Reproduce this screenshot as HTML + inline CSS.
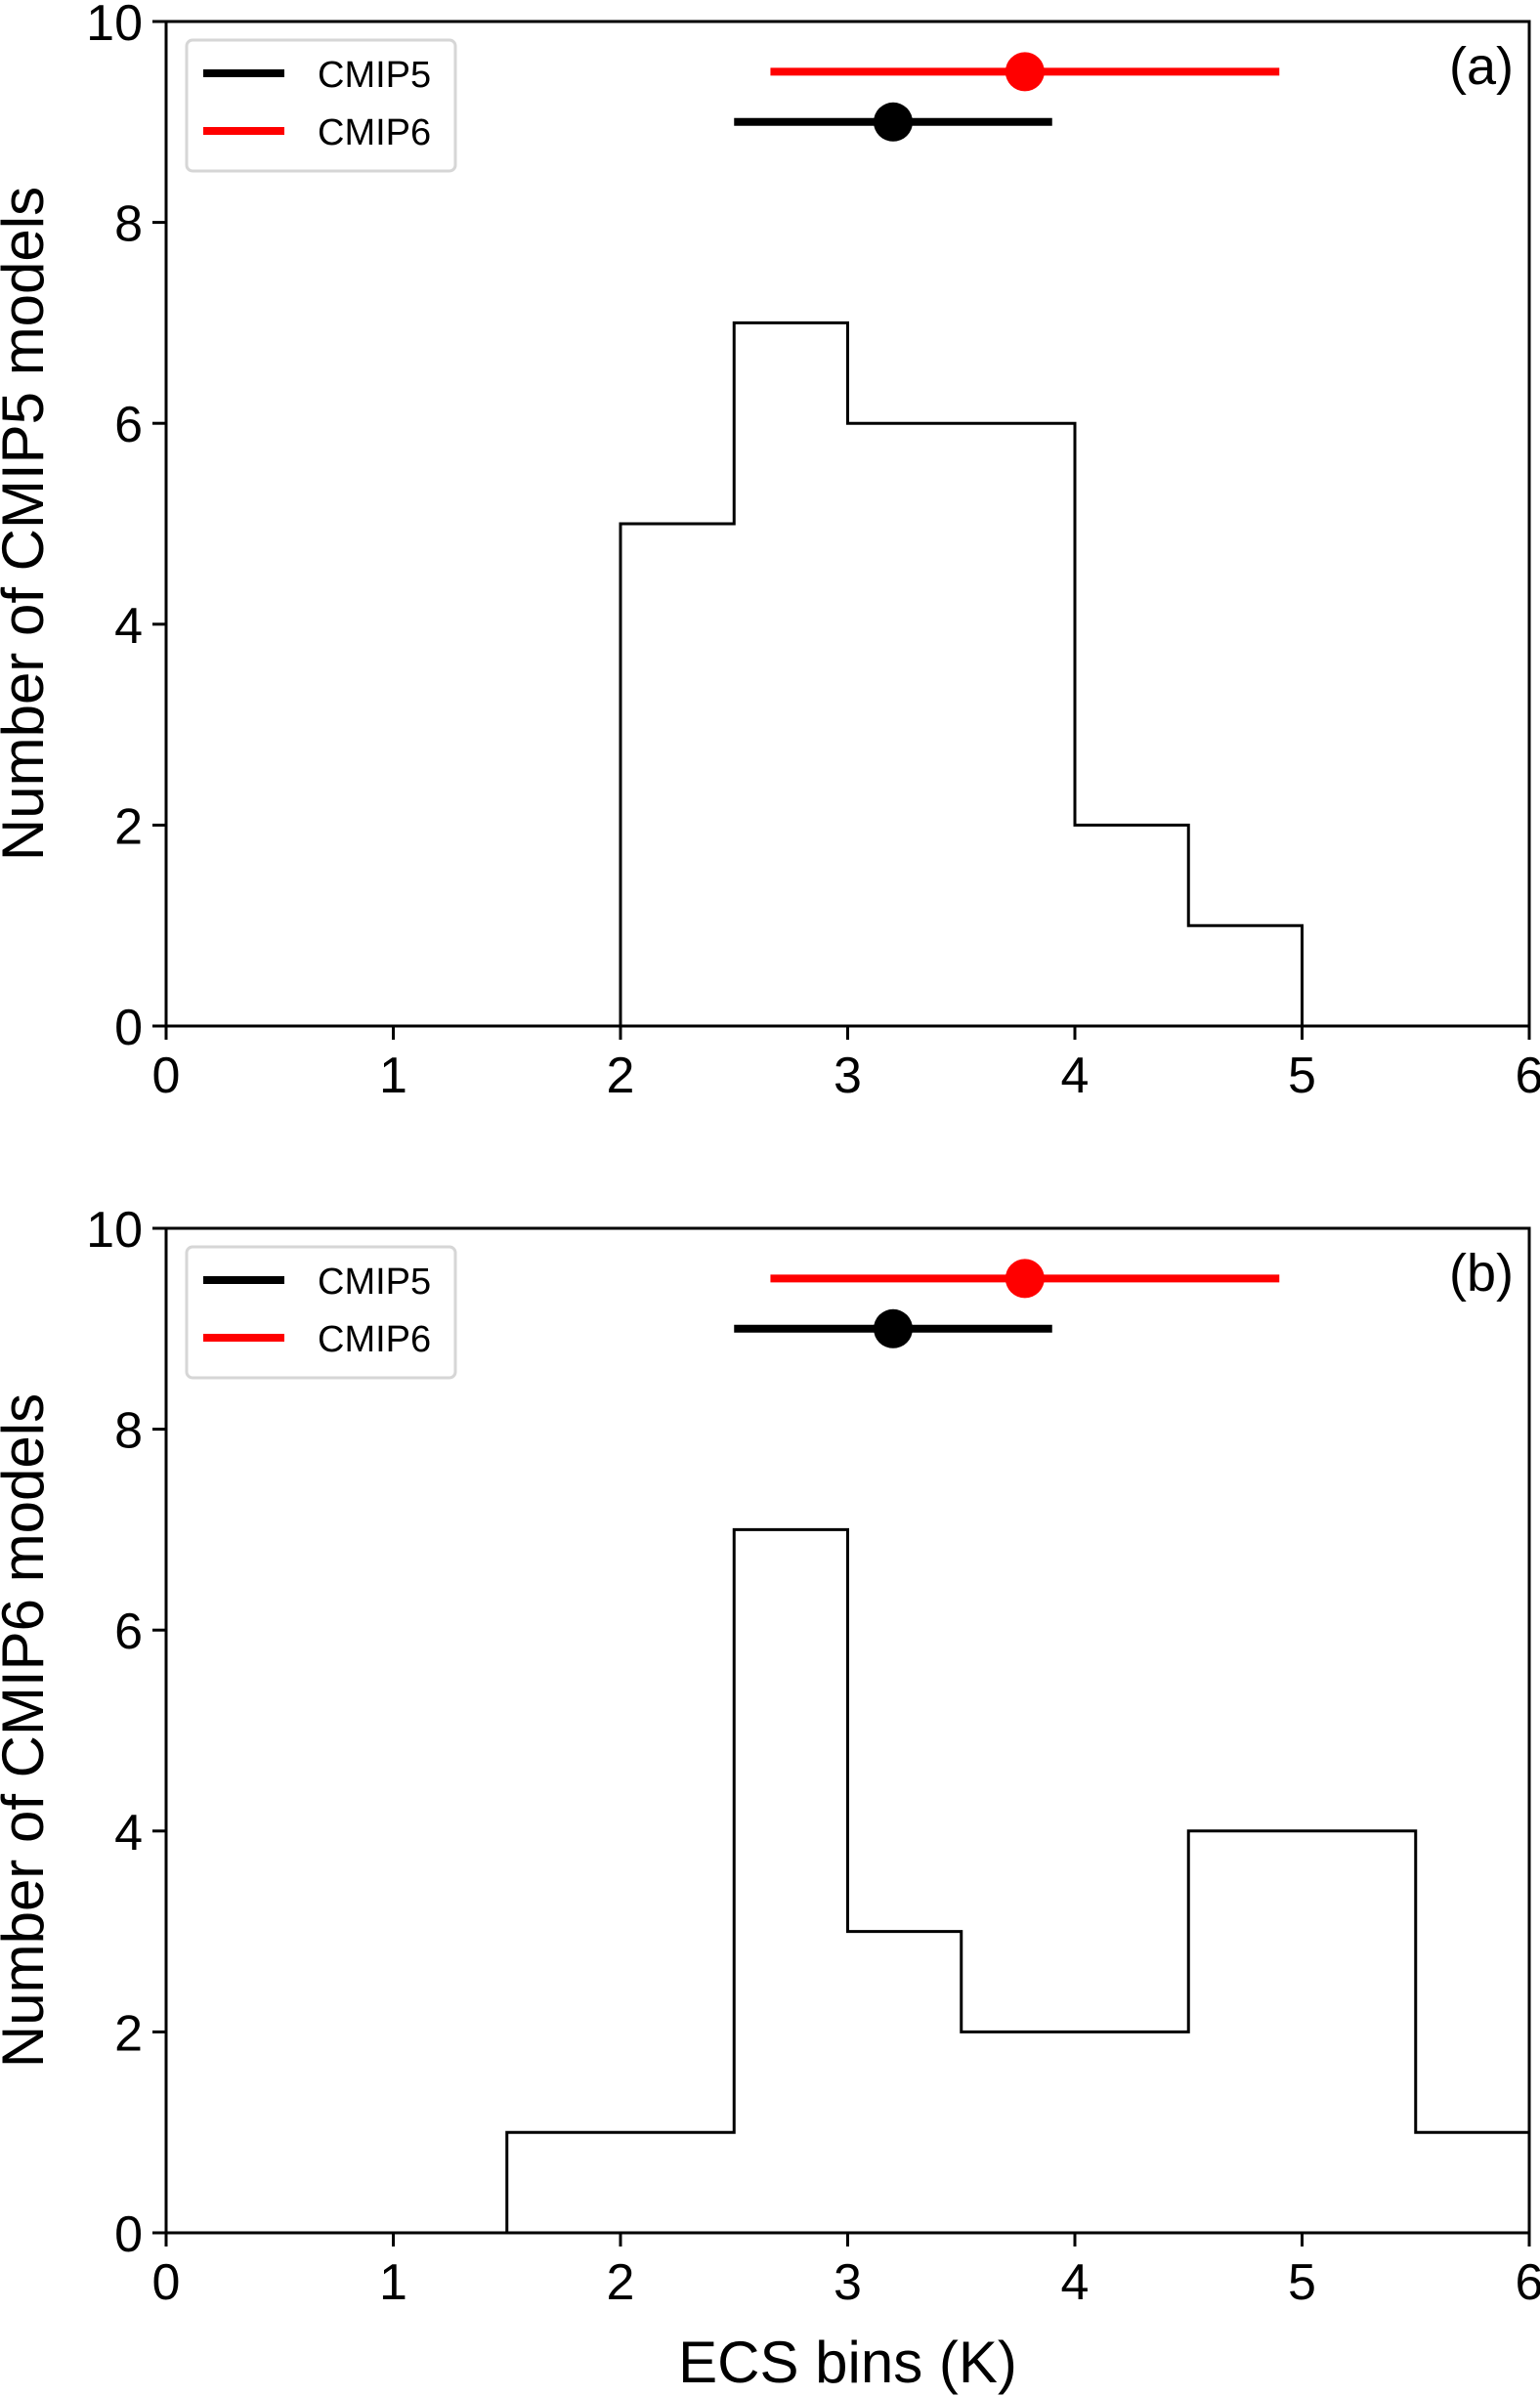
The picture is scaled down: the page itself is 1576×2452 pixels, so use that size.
<!DOCTYPE html>
<html><head><meta charset="utf-8"><style>
html,body{margin:0;padding:0;background:#fff;}
svg{display:block;font-family:"Liberation Sans","DejaVu Sans",sans-serif;}
</style></head><body>
<svg id="fig" width="1576" height="2452" viewBox="0 0 1576 2452"></svg>
<script>
const binEdges = [0,0.5,1,1.5,2,2.5,3,3.5,4,4.5,5,5.5,6];
const countsA = [0,0,0,0,5,7,6,6,2,1,0,0];
const countsB = [0,0,0,1,1,7,3,2,2,4,4,1];
const xTicks = [0,1,2,3,4,5,6];
const yTicks = [0,2,4,6,8,10];
const cmip5Range = [2.5,3.9]; const cmip5Mean = [3.2]; const cmip5Y = [9];
const cmip6Range = [2.66,4.9]; const cmip6Mean = [3.78]; const cmip6Y = [9.5];
const panels = [
  {id:'a', label:'(a)', counts:countsA, top:22, bottom:1050, ylabel:'Number of CMIP5 models', xlabel:null},
  {id:'b', label:'(b)', counts:countsB, top:1257, bottom:2285, ylabel:'Number of CMIP6 models', xlabel:'ECS bins (K)'}
];
const NS='http://www.w3.org/2000/svg';
const svg=document.getElementById('fig');
const L=170,R=1565;
function mk(tag,attrs,parent){const e=document.createElementNS(NS,tag);for(const k in attrs)e.setAttribute(k,attrs[k]);(parent||svg).appendChild(e);return e;}
panels.forEach(p=>{
  const g=mk('g',{});
  
  
  const xs=v=>L+(R-L)*v/6;
  const ys=v=>p.bottom-(p.bottom-p.top)*v/10;
  let d='M'+xs(binEdges[0])+' '+ys(0);
  p.counts.forEach((c,i)=>{d+=' L'+xs(binEdges[i])+' '+ys(c)+' L'+xs(binEdges[i+1])+' '+ys(c);});
  d+=' L'+xs(6)+' '+ys(0);
  const h=mk('path',{d:d,fill:'none',stroke:'#000','stroke-width':3},g);
  
  
  const eb=[[cmip6Range,cmip6Mean[0],cmip6Y[0],'#ff0000','cmip6'],[cmip5Range,cmip5Mean[0],cmip5Y[0],'#000','cmip5']];
  eb.forEach(e=>{
    const ln=mk('line',{x1:xs(e[0][0]),x2:xs(e[0][1]),y1:ys(e[2]),y2:ys(e[2]),stroke:e[3],'stroke-width':8},g);
    
    
    const c=mk('circle',{cx:xs(e[1]),cy:ys(e[2]),r:20,fill:e[3]},g);
    
    
  });
  const fr=mk('rect',{x:L,y:p.top,width:R-L,height:p.bottom-p.top,fill:'none',stroke:'#000','stroke-width':3},g);
  
  
  xTicks.forEach(t=>{
    mk('line',{x1:xs(t),x2:xs(t),y1:p.bottom,y2:p.bottom+14,stroke:'#000','stroke-width':3},g);
    const tx=mk('text',{x:xs(t),y:p.bottom+68,'font-size':52,'text-anchor':'middle'},g);
    tx.textContent=t;
    
    
  });
  yTicks.forEach(t=>{
    mk('line',{x1:L-14,x2:L,y1:ys(t),y2:ys(t),stroke:'#000','stroke-width':3},g);
    const tx=mk('text',{x:L-24,y:ys(t)+19,'font-size':52,'text-anchor':'end'},g);
    tx.textContent=t;
    
    
  });
  const yl=mk('text',{x:0,y:0,'font-size':60,'text-anchor':'middle',transform:'translate(44,'+((p.top+p.bottom)/2)+') rotate(-90)'},g);
  yl.textContent=p.ylabel;
  
  
  if(p.xlabel){
    const xl=mk('text',{x:(L+R)/2,y:2438,'font-size':60,'text-anchor':'middle'},g);
    xl.textContent=p.xlabel;
    
    
  }
  const pl=mk('text',{x:R-16,y:p.top+64,'font-size':54,'text-anchor':'end'},g);
  pl.textContent=p.label;
  
  
  const lg=mk('g',{transform:'translate(0,'+(p.top-22)+')'},g);
  
  
  mk('rect',{x:191,y:41,width:275,height:134,rx:6,fill:'#fff',stroke:'#d6d6d6','stroke-width':3},lg);
  [['CMIP5','#000',75],['CMIP6','#ff0000',134]].forEach(e=>{
    const le=mk('g',{},lg);
    
    
    mk('line',{x1:208,x2:291,y1:e[2],y2:e[2],stroke:e[1],'stroke-width':8},le);
    const t=mk('text',{x:325,y:e[2]+14,'font-size':38},le);
    t.textContent=e[0];
  });
});
</script>
</body></html>
